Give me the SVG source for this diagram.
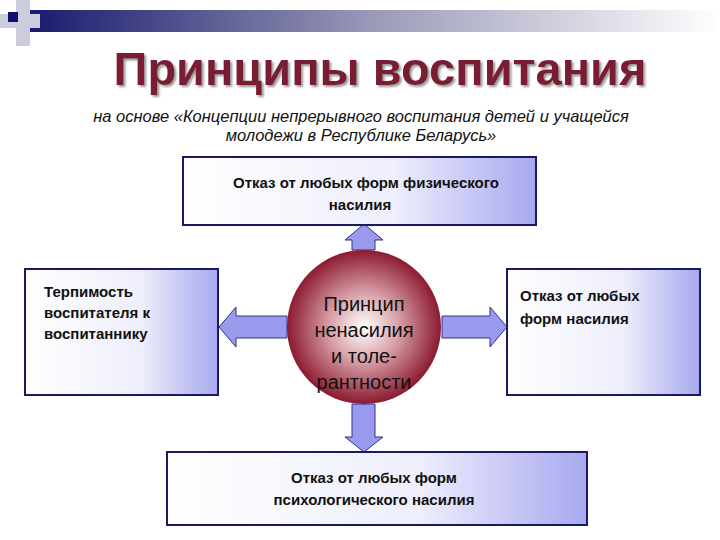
<svg xmlns="http://www.w3.org/2000/svg" width="720" height="540" viewBox="0 0 720 540">
<defs>
<linearGradient id="bar" x1="0" x2="1"><stop offset="0" stop-color="#1a1a6e"/><stop offset="0.5" stop-color="#9a9ab8"/><stop offset="1" stop-color="#ffffff"/></linearGradient>
<linearGradient id="box" x1="0" x2="1"><stop offset="0" stop-color="#ffffff"/><stop offset="0.6" stop-color="#eeeefc"/><stop offset="1" stop-color="#a8a8f0"/></linearGradient>
<radialGradient id="ball" cx="0.5" cy="0.5" r="0.5"><stop offset="0" stop-color="#ffffff"/><stop offset="0.45" stop-color="#d8a0a8"/><stop offset="1" stop-color="#8c1a30"/></radialGradient>
<filter id="sh"><feDropShadow dx="2" dy="2" stdDeviation="1" flood-color="#999"/></filter>
<style>
.b{fill:url(#box);stroke:#1a1a60;stroke-width:2}
.a{fill:#9999ee;stroke:#333388;stroke-width:1}
.t{font-family:"Liberation Sans",Arial,sans-serif;font-size:15px;font-weight:bold;fill:#111}
</style>
</defs>
<rect x="0" y="0" width="720" height="540" fill="#fff"/>
<rect x="30" y="10" width="690" height="22" fill="url(#bar)"/>
<rect x="16" y="0" width="14" height="46" fill="#ccccdd"/>
<rect x="0" y="14" width="40" height="14" fill="#ccccdd"/>
<rect x="8" y="12" width="10" height="10" fill="#101070"/>
<text x="380" y="85" text-anchor="middle" font-family="Liberation Sans,Arial,sans-serif" font-weight="bold" font-size="47" fill="#7a1a30" filter="url(#sh)">Принципы воспитания</text>
<text x="361" y="122" text-anchor="middle" font-family="Liberation Sans,Arial,sans-serif" font-style="italic" font-size="16.5" fill="#111">на основе «Концепции непрерывного воспитания детей и учащейся</text>
<text x="361" y="141" text-anchor="middle" font-family="Liberation Sans,Arial,sans-serif" font-style="italic" font-size="16.5" fill="#111">молодежи в Республике Беларусь»</text>
<g id="connectors">
<polygon class="a" points="352,250 352,240 345,240 364,224 383,240 375,240 375,250"/>
<polygon class="a" points="352,404 352,437 345,437 364,452 383,437 375,437 375,404"/>
<polygon class="a" points="287,316 236,316 236,307 219,327 236,347 236,338 287,338"/>
<polygon class="a" points="442,316 490,316 490,307 507,327 490,347 490,338 442,338"/>
</g>
<g id="top"><rect class="b" x="183" y="157" width="353" height="68"/>
<text class="t" x="366" y="188" text-anchor="middle">Отказ от любых форм физического</text>
<text class="t" x="360" y="210" text-anchor="middle">насилия</text></g>
<g id="left"><rect class="b" x="25" y="269" width="193" height="126"/>
<text class="t" x="44" y="297">Терпимость</text>
<text class="t" x="44" y="318">воспитателя к</text>
<text class="t" x="44" y="339">воспитаннику</text></g>
<g id="right"><rect class="b" x="507" y="269" width="193" height="126"/>
<text class="t" x="520" y="301">Отказ от любых</text>
<text class="t" x="520" y="324">форм насилия</text></g>
<g id="bottom"><rect class="b" x="167" y="452" width="420" height="73"/>
<text class="t" x="374" y="483" text-anchor="middle">Отказ от любых форм</text>
<text class="t" x="374" y="505" text-anchor="middle">психологического насилия</text></g>
<g id="center"><circle cx="364" cy="327" r="77" fill="url(#ball)"/>
<g font-family="Liberation Sans,Arial,sans-serif" font-size="20" text-anchor="middle" fill="#111">
<text x="364" y="311">Принцип</text><text x="364" y="337">ненасилия</text><text x="364" y="363">и толе-</text><text x="364" y="389">рантности</text></g></g>
</svg>
